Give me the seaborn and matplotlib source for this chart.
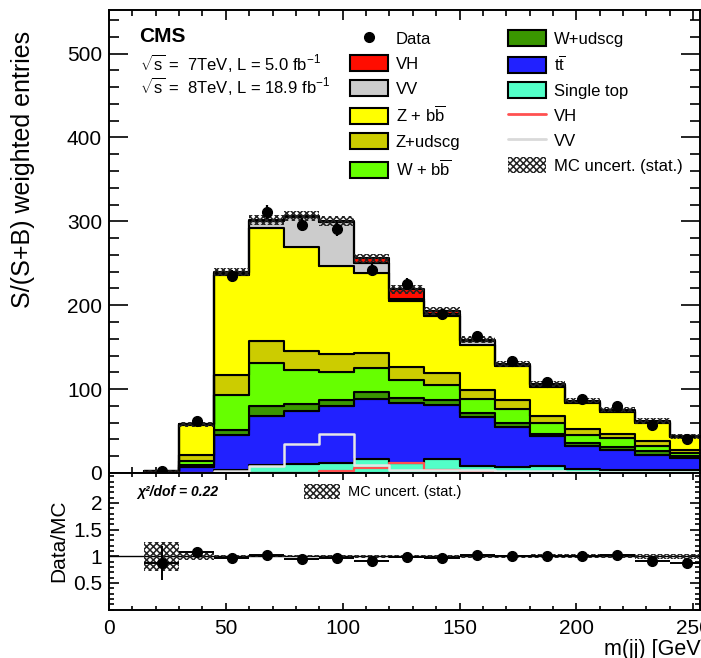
import numpy as np
import pandas as pd
import matplotlib
matplotlib.use("Agg")
import matplotlib.pyplot as plt
import seaborn as sns
from matplotlib.patches import Patch
from matplotlib.lines import Line2D
from matplotlib.ticker import MultipleLocator, FixedLocator, FixedFormatter

# ---------------- data ----------------
bin_edges = [15, 30, 45, 60, 75, 90, 105, 120, 135, 150, 165, 180, 195, 210, 225, 240, 255]
bin_centers = [22.5, 37.5, 52.5, 67.5, 82.5, 97.5, 112.5, 127.5, 142.5, 157.5,
               172.5, 187.5, 202.5, 217.5, 232.5, 247.5]

# stacked background / signal contributions per bin
vh     = [0.0, 0.2, 1.0, 2.0, 1.0, 1.5, 6.0, 12.0, 3.0, 2.0, 1.0, 1.0, 1.0, 1.5, 1.0, 0.5]
vv     = [0.1, 0.5, 2.4, 8.0, 35.4, 52.0, 12.0, 2.0, 3.0, 4.0, 2.0, 2.0, 1.5, 1.6, 1.4, 1.0]
z_bb   = [1.0, 36.5, 119.6, 135.0, 123.6, 105.0, 95.0, 79.0, 68.0, 54.4, 39.5, 35.4, 31.0, 25.9, 21.8, 14.7]
z_udsc = [0.2, 7.0, 23.6, 26.0, 23.0, 21.0, 18.0, 15.0, 14.0, 10.6, 11.5, 8.0, 6.8, 4.8, 5.2, 3.9]
w_bb   = [0.3, 4.0, 41.7, 51.5, 41.0, 34.3, 29.0, 21.5, 17.5, 16.4, 16.4, 13.1, 9.9, 11.1, 6.8, 4.0]
w_udsc = [0.1, 3.0, 6.0, 11.1, 8.4, 6.7, 8.0, 6.0, 6.0, 5.2, 4.6, 2.8, 4.0, 3.6, 3.9, 2.0]
ttbar  = [0.4, 6.5, 41.7, 58.4, 62.6, 68.0, 71.3, 71.5, 64.8, 57.7, 48.0, 35.0, 27.0, 23.0, 17.9, 13.9]
stop   = [0.2, 0.5, 4.0, 10.0, 11.0, 12.0, 16.7, 12.0, 16.7, 8.7, 7.0, 8.7, 4.8, 4.0, 4.0, 4.0]

# unstacked outlines
vh_line = [0, 0, 0, 0, 0, 2.0, 6.0, 12.0, 4.0, 1.0, 0, 0, 0, 0, 0, 0]
vv_line = [0, 0.5, 2.4, 8.0, 35.0, 47.0, 10.0, 3.0, 3.0, 4.0, 2.0, 2.0, 1.5, 1.6, 1.4, 1.0]

# data
data     = [2.0, 62.0, 235.0, 311.0, 296.0, 291.0, 242.0, 225.0, 189.0, 163.0,
            134.0, 109.0, 88.0, 79.5, 57.7, 40.6]
data_err = [1.5, 4, 7, 8, 8, 8, 7, 7, 6, 6, 5, 5, 4, 4, 4, 3.5]
mc_err   = [1.0, 3.0, 5.0, 6.0, 6.0, 6.0, 5.5, 5.0, 5.0, 4.5, 4.0, 3.5, 3.0, 3.0, 3.0, 3.0]

# ratio panel
ratio        = [0.87, 1.08, 0.96, 1.02, 0.95, 0.96, 0.92, 0.99, 0.96, 1.02,
                1.00, 1.00, 1.00, 1.03, 0.92, 0.87]
ratio_err    = [0.32, 0.06, 0.03, 0.025, 0.025, 0.025, 0.03, 0.03, 0.03, 0.03,
                0.035, 0.04, 0.04, 0.045, 0.05, 0.06]
mc_rel_err   = [0.27, 0.07, 0.025, 0.02, 0.02, 0.02, 0.025, 0.025, 0.025, 0.03,
                0.03, 0.035, 0.035, 0.04, 0.045, 0.05]

processes = ["VH", "VV", r"Z + b$\overline{\mathrm{b}}$", "Z+udscg", r"W + b$\overline{\mathrm{b}}$",
             "W+udscg", r"t$\overline{\mathrm{t}}$", "Single top"]
series = [vh, vv, z_bb, z_udsc, w_bb, w_udsc, ttbar, stop]
colors = ["#ff0d00", "#cccccc", "#ffff00", "#cccc00", "#66ff00", "#3a9600", "#2121ff", "#52ffc8"]

# ---------------- style ----------------
sns.set_theme(style="ticks")
plt.rcParams["font.family"] = ["Liberation Sans", "DejaVu Sans"]
plt.rcParams["mathtext.fontset"] = "custom"
plt.rcParams["mathtext.rm"] = "Liberation Sans"
plt.rcParams["mathtext.it"] = "Liberation Sans:italic"
plt.rcParams["mathtext.bf"] = "Liberation Sans:bold"
plt.rcParams["hatch.linewidth"] = 1.1
plt.rcParams["axes.linewidth"] = 1.4
plt.rcParams["axes.edgecolor"] = "black"
plt.rcParams["xtick.color"] = "black"
plt.rcParams["ytick.color"] = "black"
plt.rcParams["text.color"] = "black"

W, H = 701, 658
fig = plt.figure(figsize=(W / 100, H / 100), dpi=100)

def px_axes(left, top, right, bottom):
    return fig.add_axes([left / W, 1 - bottom / H, (right - left) / W, (bottom - top) / H])

ax = px_axes(109, 10, 700, 473)
ax2 = px_axes(109, 473, 700, 609.6)

xmax = 252.9
HATCH = "xxxxx"

# ---------------- main panel ----------------
rows = []
for name, vals in zip(processes, series):
    for c, v in zip(bin_centers, vals):
        rows.append({"mjj": c, "w": v, "process": name})
df = pd.DataFrame(rows)

sns.histplot(data=df, x="mjj", weights="w", hue="process", hue_order=processes,
             multiple="stack", bins=bin_edges, element="step", fill=True,
             palette=dict(zip(processes, colors)), alpha=1, edgecolor="black",
             linewidth=1.5, legend=False, ax=ax)

# unstacked VH / VV outlines
sns.histplot(x=bin_centers, weights=vh_line, bins=bin_edges, element="step", fill=False,
             color="#ff5050", linewidth=1.6, ax=ax)
sns.histplot(x=bin_centers, weights=vv_line, bins=bin_edges, element="step", fill=False,
             color="#e6e6e6", linewidth=1.8, ax=ax)

# MC stat uncertainty band
total = np.sum(np.array(series), axis=0)
err = np.array(mc_err)
lo = np.append(total - err, (total - err)[-1])
hi = np.append(total + err, (total + err)[-1])
ax.fill_between(bin_edges, lo, hi, step="post", facecolor="none", edgecolor="#222222",
                hatch=HATCH, linewidth=0, zorder=5)

# data points
ax.errorbar(bin_centers, data, yerr=data_err, fmt="o", color="black", ms=7,
            elinewidth=1.6, capsize=0, zorder=6)

ax.set_xlim(0, xmax)
ax.set_ylim(0, 552)
ax.set_xlabel("")
ax.set_ylabel("")
ax.xaxis.set_major_locator(MultipleLocator(50))
ax.xaxis.set_minor_locator(MultipleLocator(10))
ax.yaxis.set_major_locator(MultipleLocator(100))
ax.yaxis.set_minor_locator(MultipleLocator(20))
ax.tick_params(axis="x", which="both", labelbottom=False)
ax.tick_params(which="both", direction="in", top=True, right=True, width=1.2)
ax.tick_params(axis="y", which="major", length=14, labelsize=15, pad=5)
ax.tick_params(axis="y", which="minor", length=7)
ax.tick_params(axis="x", which="major", length=7)
ax.tick_params(axis="x", which="minor", length=4)
for s in ax.spines.values():
    s.set_visible(True)

# legend
handles = [
    Line2D([], [], marker="o", color="black", ls="none", ms=7),
    Patch(facecolor=colors[0], edgecolor="black", lw=1.5),
    Patch(facecolor=colors[1], edgecolor="black", lw=1.5),
    Patch(facecolor=colors[2], edgecolor="black", lw=1.5),
    Patch(facecolor=colors[3], edgecolor="black", lw=1.5),
    Patch(facecolor=colors[4], edgecolor="black", lw=1.5),
    Patch(facecolor=colors[5], edgecolor="black", lw=1.5),
    Patch(facecolor=colors[6], edgecolor="black", lw=1.5),
    Patch(facecolor=colors[7], edgecolor="black", lw=1.5),
    Line2D([], [], color="#ff5050", lw=2),
    Line2D([], [], color="#d9d9d9", lw=2),
    Patch(facecolor="white", edgecolor="#222222", hatch=HATCH, lw=0),
]
labels = ["Data", "VH", "VV", processes[2], "Z+udscg", processes[4],
          "W+udscg", processes[6], "Single top", "VH", "VV", "MC uncert. (stat.)"]
leg = ax.legend(handles, labels, ncol=2, loc="upper left",
                bbox_to_anchor=(350 / W, 1 - 30 / H), bbox_transform=fig.transFigure,
                frameon=False, fontsize=12, handlelength=2.3, handleheight=1.1,
                handletextpad=0.45, labelspacing=0.5, columnspacing=2.85,
                borderpad=0, borderaxespad=0)

fig.text(139 / W, 1 - 36 / H, "CMS", fontsize=15, fontweight="bold", va="center")
fig.text(140 / W, 1 - 63 / H, r"$\sqrt{\mathrm{s}}$ =  7TeV, L = 5.0 fb$^{-1}$", fontsize=12, va="center")
fig.text(140 / W, 1 - 86 / H, r"$\sqrt{\mathrm{s}}$ =  8TeV, L = 18.9 fb$^{-1}$", fontsize=12, va="center")

fig.text(23 / W, 1 - 169 / H, "S/(S+B) weighted entries", rotation=90,
         ha="center", va="center", fontsize=18)

# ---------------- ratio panel ----------------
ax2.axhline(1.0, color="black", lw=1.0, zorder=2)
rel = np.array(mc_rel_err)
rlo = np.append(1 - rel, (1 - rel)[-1])
rhi = np.append(1 + rel, (1 + rel)[-1])
ax2.fill_between(bin_edges, rlo, rhi, step="post", facecolor="none", edgecolor="#222222",
                 hatch=HATCH, linewidth=0, zorder=3)
ax2.errorbar(bin_centers, ratio, yerr=ratio_err, xerr=7.5, fmt="o", color="black", ms=7,
             elinewidth=1.4, capsize=0, zorder=6)

ax2.set_xlim(0, xmax)
ax2.set_ylim(0, 2.56)
ax2.set_xlabel("")
ax2.set_ylabel("")
ax2.xaxis.set_major_locator(MultipleLocator(50))
ax2.xaxis.set_minor_locator(MultipleLocator(10))
ax2.yaxis.set_major_locator(FixedLocator([0.5, 1.0, 1.5, 2.0]))
ax2.yaxis.set_major_formatter(FixedFormatter(["0.5", "1", "1.5", "2"]))
ax2.yaxis.set_minor_locator(MultipleLocator(0.1))
ax2.tick_params(which="both", direction="in", top=True, right=True, width=1.2)
ax2.tick_params(axis="both", which="major", labelsize=15)
ax2.tick_params(axis="y", which="major", length=7, pad=5)
ax2.tick_params(axis="y", which="minor", length=3.5)
ax2.tick_params(axis="x", which="major", length=5, pad=7)
ax2.tick_params(axis="x", which="minor", length=3)

fig.text(137 / W, 1 - 492 / H, "χ²/dof = 0.22", fontsize=10, style="italic",
         fontweight="bold", va="center")
ax2.legend([Patch(facecolor="white", edgecolor="#222222", hatch=HATCH, lw=0)],
           ["MC uncert. (stat.)"], loc="upper left",
           bbox_to_anchor=(304 / W, 1 - 484 / H), bbox_transform=fig.transFigure,
           frameon=False, fontsize=10.5, handlelength=2.5, handleheight=1.2,
           handletextpad=0.55, borderpad=0, borderaxespad=0)

fig.text(59 / W, 1 - 541 / H, "Data/MC", rotation=90, ha="center", va="center", fontsize=15)
fig.text(707 / W, 1 - 649 / H, "m(jj) [GeV]", ha="right", va="center", fontsize=15.5)

fig.savefig("out.png", dpi=100)
